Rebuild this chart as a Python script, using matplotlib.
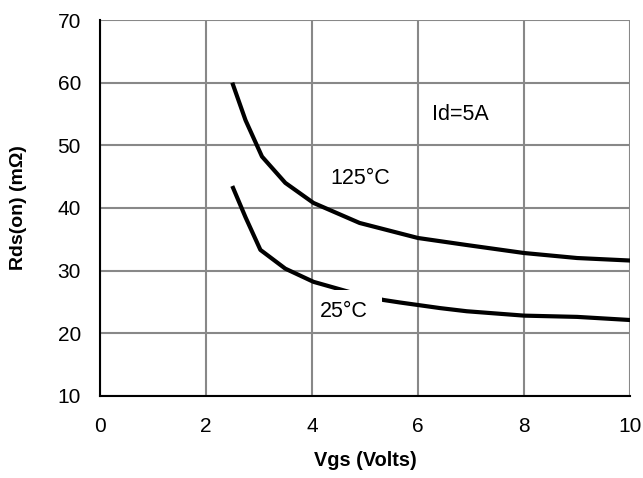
from matplotlib import pyplot as plt
from matplotlib.path import Path

plt.rcParams["font.family"] = ["Liberation Sans", "DejaVu Sans"]

# Rds(on) vs Vgs
vgs_125 = [2.5, 2.75, 3.06, 3.5, 4.03, 4.9, 6.0, 6.9, 8.0, 9.0, 10.0]
rds_125 = [60.0, 54.0, 48.2, 44.0, 40.8, 37.6, 35.2, 34.1, 32.8, 32.0, 31.6]

vgs_25 = [2.5, 2.75, 3.03, 3.5, 4.03, 4.78, 5.35, 5.66, 6.42, 6.92, 8.0, 9.0, 10.0]
rds_25 = [43.5, 38.5, 33.3, 30.3, 28.2, 26.4, 25.3, 24.9, 24.0, 23.5, 22.8, 22.6, 22.1]


def label_box(x0, y0, width, height, mutation_size):
    """White box around a label, wider on the right and top (hides the curve)"""
    p = 0.2 * mutation_size
    left, right = x0 - p, x0 + width + 3.2 * p
    bottom, top = y0 - p, y0 + height + 2.6 * p
    return Path(
        [(left, bottom), (right, bottom), (right, top), (left, top), (left, bottom)],
        closed=True,
    )


fig, ax = plt.subplots(figsize=(6.43, 4.78), dpi=100)
fig.subplots_adjust(left=0.155, right=0.98, top=0.958, bottom=0.172)

ax.plot(vgs_125, rds_125, color="black", lw=3, solid_capstyle="butt", zorder=3)
ax.plot(vgs_25, rds_25, color="black", lw=3, solid_capstyle="butt", zorder=3)

ax.text(6.26, 54.05, "Id=5A", fontsize=15.5, va="baseline", ha="left")
ax.text(4.91, 43.84, "125°C", fontsize=15.5, va="baseline", ha="center")
ax.text(4.61, 22.58, "25°C", fontsize=15.5, va="baseline", ha="center",
        bbox=dict(boxstyle=label_box, facecolor="white", edgecolor="none"),
        zorder=4)

ax.set_xlim(0, 10)
ax.set_ylim(10, 70)
ax.set_xticks(range(0, 11, 2))
ax.set_yticks(range(10, 71, 10))
ax.grid(True, color="#888888", lw=1.5)
ax.tick_params(length=0, labelsize=15)
ax.tick_params(axis="x", pad=15)
ax.tick_params(axis="y", pad=13.5)

for side in ["top", "right"]:
    ax.spines[side].set_visible(False)
for side in ["left", "bottom"]:
    ax.spines[side].set_linewidth(1.5)
    ax.spines[side].set_zorder(5)

ax.set_xlabel("Vgs (Volts)", fontsize=14.3, fontweight="bold", labelpad=11)
ax.set_ylabel("Rds(on) (mΩ)", fontsize=14, fontweight="bold", labelpad=22)

fig.savefig("out.png", dpi=100)
